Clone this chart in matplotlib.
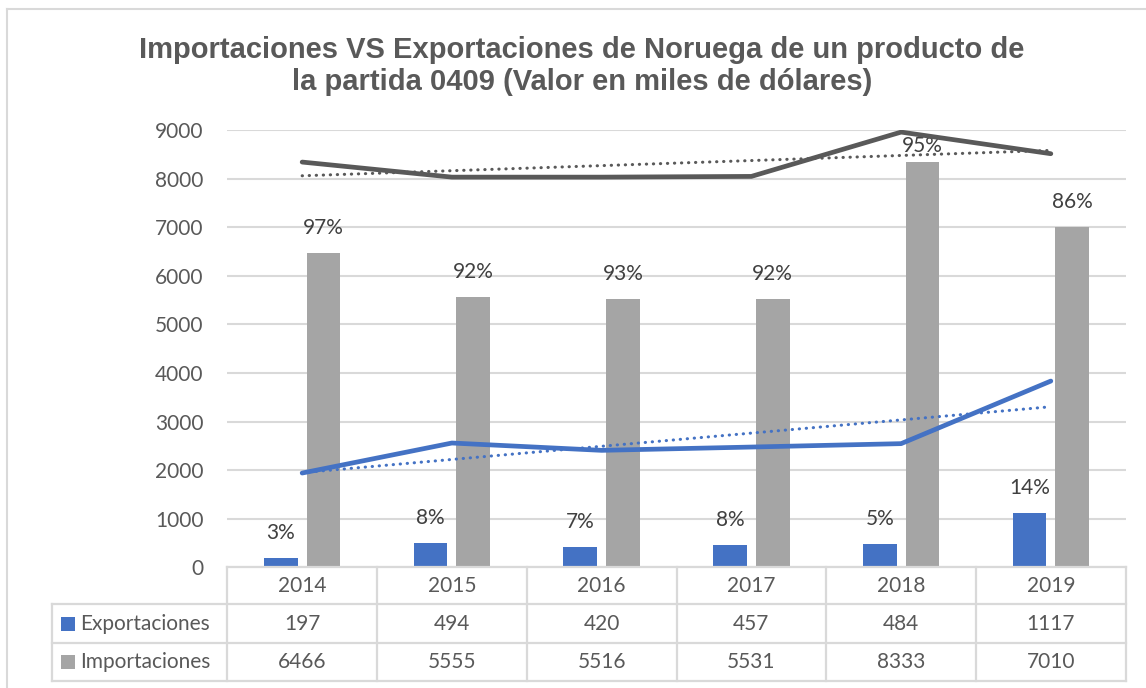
import numpy as np
import matplotlib
matplotlib.use("Agg")
import matplotlib.pyplot as plt
from matplotlib.transforms import blended_transform_factory
from matplotlib.patches import Rectangle
from matplotlib.lines import Line2D

# ---------------- data ----------------
years = ['2014', '2015', '2016', '2017', '2018', '2019']
exportaciones = [197, 494, 420, 457, 484, 1117]
importaciones = [6466, 5555, 5516, 5531, 8333, 7010]
pct_exportaciones = ['3%', '8%', '7%', '8%', '5%', '14%']
pct_importaciones = ['97%', '92%', '93%', '92%', '95%', '86%']
linea_gris = [8340, 8030, 8030, 8045, 8957, 8512]
linea_azul = [1940, 2558, 2407, 2475, 2545, 3833]
y_ticks = [0, 1000, 2000, 3000, 4000, 5000, 6000, 7000, 8000, 9000]
title = ("Importaciones VS Exportaciones de Noruega de un producto de\n"
         "la partida 0409 (Valor en miles de dólares)")

# ---------------- style ----------------
W, H = 1146, 688
BLUE = '#4472C4'
GRAY = '#A5A5A5'
DARK = '#595959'
GRID = '#D9D9D9'
TXT = '#595959'
FONT = ['Lato', 'DejaVu Sans']
FS = 15

plt.rcParams['font.family'] = FONT

fig = plt.figure(figsize=(W / 100, H / 100), dpi=100)
fig.patch.set_facecolor('white')

def fx(px):
    return px / W

def fy(py):
    return 1 - py / H

# outer chart frame (left and top edges visible)
fig.add_artist(Line2D([fx(7), fx(7)], [fy(9), 0], transform=fig.transFigure, color=GRID, lw=1.5))
fig.add_artist(Line2D([fx(7), 1], [fy(9), fy(9)], transform=fig.transFigure, color=GRID, lw=1.5))

ax_l, ax_r, ax_t, ax_b = 227.3, 1125.7, 130, 567.3
ax = fig.add_axes([fx(ax_l), fy(ax_b), (ax_r - ax_l) / W, (ax_b - ax_t) / H])
ax.set_facecolor('none')

x = np.arange(len(years))
bw = 0.225
off = 0.143
ax.bar(x - off, exportaciones, width=bw, color=BLUE, zorder=2)
ax.bar(x + off, importaciones, width=bw, color=GRAY, zorder=2)

ax.plot(x, linea_gris, color=DARK, lw=3.4, solid_capstyle='round', zorder=3)
ax.plot(x, linea_azul, color=BLUE, lw=3.4, solid_capstyle='round', zorder=3)

# linear trendlines
for series, col in ((linea_gris, DARK), (linea_azul, BLUE)):
    p = np.polyfit(x, series, 1)
    ax.plot(x, np.polyval(p, x), color=col, lw=2.2, linestyle=(0, (0.1, 2.2)),
            dash_capstyle='round', zorder=3)

ax.set_xlim(-0.5, len(years) - 0.5)
ax.set_ylim(0, 9000)
ax.set_yticks(y_ticks)
ax.set_yticklabels([str(v) for v in y_ticks])
ax.tick_params(axis='y', length=0, pad=17, labelsize=FS, labelcolor=TXT)
ax.set_xticks([])
ax.yaxis.grid(True, color=GRID, lw=1.5, zorder=0)
ax.set_axisbelow(True)
for s in ax.spines.values():
    s.set_visible(False)

# percentage labels
lab_off = 515
lab_max = 8680
for i in range(len(years)):
    ax.text(x[i] - off, min(exportaciones[i] + lab_off, lab_max), pct_exportaciones[i],
            ha='center', va='center', fontsize=FS, color='#404040', zorder=4)
    ax.text(x[i] + off, min(importaciones[i] + lab_off, lab_max), pct_importaciones[i],
            ha='center', va='center', fontsize=FS, color='#404040', zorder=1)

# ---------------- data table ----------------
tr = blended_transform_factory(ax.transData, fig.transFigure)
row_y = [567.3, 604.3, 643.3, 680.7]
left_px = 52.3
xl, xr = -0.5, len(years) - 0.5

fig.add_artist(Line2D([xl, xr], [fy(row_y[0]), fy(row_y[0])], transform=tr, color=GRID, lw=1.6))
for py in row_y[1:]:
    fig.add_artist(Line2D([fx(left_px), fx(ax_r)], [fy(py), fy(py)],
                          transform=fig.transFigure, color=GRID, lw=1.6))
for b in np.arange(len(years) + 1) - 0.5:
    fig.add_artist(Line2D([b, b], [fy(row_y[0]), fy(row_y[-1])], transform=tr, color=GRID, lw=1.6))
fig.add_artist(Line2D([fx(left_px), fx(left_px)], [fy(row_y[1]), fy(row_y[-1])],
                      transform=fig.transFigure, color=GRID, lw=1.6))

centers = [(row_y[k] + row_y[k + 1]) / 2 for k in range(3)]
for i, yr in enumerate(years):
    fig.text(x[i], fy(centers[0]), yr, transform=tr, ha='center', va='center', fontsize=FS, color=TXT)
    fig.text(x[i], fy(centers[1]), str(exportaciones[i]), transform=tr, ha='center', va='center',
             fontsize=FS, color=TXT)
    fig.text(x[i], fy(centers[2]), str(importaciones[i]), transform=tr, ha='center', va='center',
             fontsize=FS, color=TXT)

for k, (name, col) in enumerate((('Exportaciones', BLUE), ('Importaciones', GRAY))):
    cy = centers[k + 1]
    fig.add_artist(Rectangle((fx(61), fy(cy + 7)), 14 / W, 14 / H, transform=fig.transFigure,
                             facecolor=col, edgecolor='none'))
    fig.text(fx(80), fy(cy), name, ha='left', va='center', fontsize=FS, color=TXT)

fig.text(fx(582), fy(66), title, ha='center', va='center', fontsize=21, fontweight='bold',
         color=DARK, family=['Liberation Sans', 'DejaVu Sans'], linespacing=1.2)

fig.savefig('out.png', dpi=100, facecolor='white')
